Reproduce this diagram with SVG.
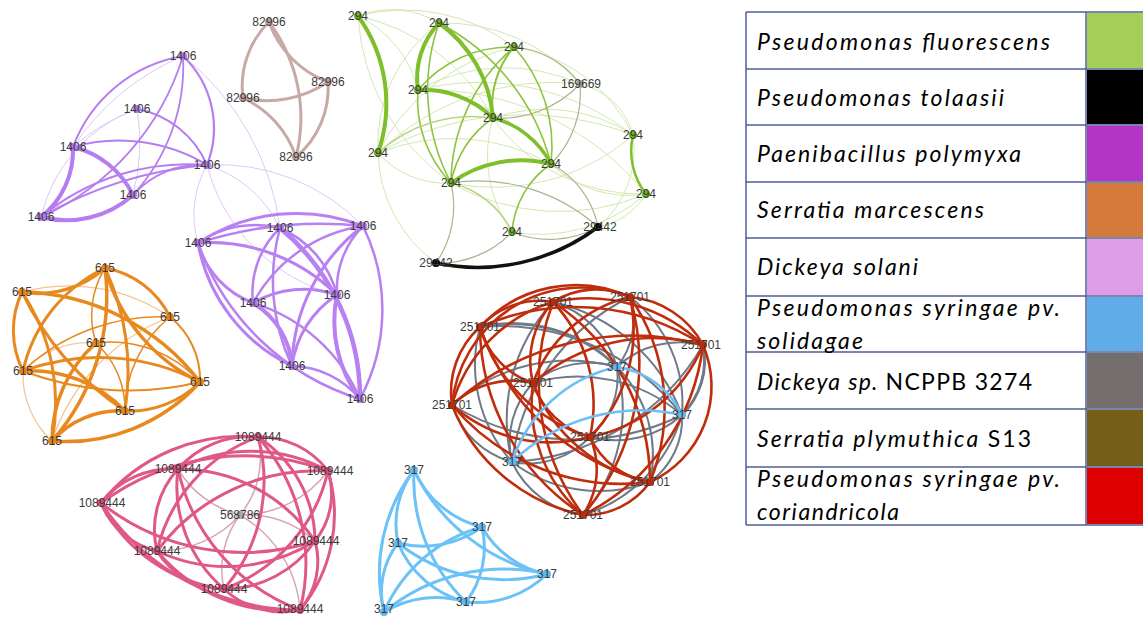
<svg xmlns="http://www.w3.org/2000/svg" width="1143" height="617" viewBox="0 0 1143 617">
<style>
.e{fill:none;stroke-linecap:round}
.p1{stroke:#b67df0;stroke-width:2}
.p1f{stroke:#ddc8f8;stroke-width:1}
.br{stroke:#c7aaa5;stroke-width:3}
.g1{stroke:#7fbf2a;stroke-width:4}
.g2{stroke:#8cc440;stroke-width:1.6}
.g3{stroke:#aab58c;stroke-width:1.2}
.g4{stroke:#d3e8b0;stroke-width:1}
.bk{stroke:#111;stroke-width:3.5}
.p2{stroke:#b880f2;stroke-width:2.5}
.or{stroke:#e8891f;stroke-width:3}
.orl{stroke:#f3c48e;stroke-width:1.2}
.pk{stroke:#df5887;stroke-width:3}
.pkl{stroke:#d9a5b8;stroke-width:1.5}
.bl{stroke:#6cc2f6;stroke-width:3}
.rd{stroke:#bf2d0c;stroke-width:2.6}
.gy{stroke:#6f7a89;stroke-width:2}
.lb{stroke:#6cc0f5;stroke-width:2.5}
.lbl{font-family:"Liberation Sans",Arial,sans-serif;font-size:12px;fill:#3a3a3a;text-anchor:middle}
.leg{font-family:Lato,"Liberation Sans",sans-serif;font-size:23px;fill:#000;font-style:italic}
.up{font-style:normal}
.grid{stroke:#4f5d96;stroke-width:1.5;fill:none}
</style>
<rect width="1143" height="617" fill="#fff"/>
<g id="connectors">
<path class="e p1f" d="M137 109A150 150 0 0 0 41 217"/>
<path class="e p1f" d="M137 109A200 200 0 0 1 133 195"/>
<path class="e p1f" d="M183 56A250 250 0 0 0 73 147"/>
<path class="e p1f" d="M73 147A200 200 0 0 1 137 109"/>
<path class="e p1f" d="M207 165A100 100 0 0 0 198 243"/>
<path class="e p1f" d="M207 165A120 120 0 0 1 280 228"/>
<path class="e p1f" d="M207 165A200 200 0 0 1 363 226"/>
<path class="e p1f" d="M207 165A180 180 0 0 0 337 295"/>
<path class="e p1f" d="M183 56A260 260 0 0 1 280 228"/>
<path class="e p1" d="M183 56A143 143 0 0 0 73 147"/>
<path class="e p1" style="stroke-width:1.8" d="M183 56A190 190 0 0 1 133 195"/>
<path class="e p1" style="stroke-width:1.8" d="M183 56A260 260 0 0 1 41 217"/>
<path class="e p1" style="stroke-width:2.2" d="M183 56A100 100 0 0 1 207 165"/>
<path class="e p1" d="M137 109A95 95 0 0 1 207 165"/>
<path class="e p1" d="M73 147A170 170 0 0 1 207 165"/>
<path class="e p1" style="stroke-width:4" d="M73 147A90 90 0 0 1 133 195"/>
<path class="e p1" style="stroke-width:4" d="M73 147A85 85 0 0 1 41 217"/>
<path class="e p1" style="stroke-width:4" d="M41 217A100 100 0 0 0 133 195"/>
<path class="e p1" d="M41 217A230 230 0 0 1 207 165"/>
<path class="e p1" d="M41 217A400 400 0 0 1 207 165"/>
<path class="e p1" d="M133 195A90 90 0 0 1 207 165"/>
<path class="e br" d="M269 22A90 90 0 0 0 243 98"/>
<path class="e br" d="M269 22A100 100 0 0 0 328 82"/>
<path class="e br" d="M269 22A160 160 0 0 1 296 157"/>
<path class="e br" d="M243 98A110 110 0 0 0 328 82"/>
<path class="e br" d="M243 98A100 100 0 0 1 296 157"/>
<path class="e br" d="M328 82A90 90 0 0 1 296 157"/>
<path class="e g4" d="M358 16A90 90 0 0 1 439 23"/>
<path class="e g4" d="M358 16A180 180 0 0 1 514 47"/>
<path class="e g4" d="M358 16A110 110 0 0 1 418 90"/>
<path class="e g4" d="M358 16A200 200 0 0 1 493 118"/>
<path class="e g4" d="M358 16A220 220 0 0 0 451 183"/>
<path class="e g4" d="M439 23A180 180 0 0 1 580 84"/>
<path class="e g4" d="M514 47A160 160 0 0 1 633 135"/>
<path class="e g4" d="M514 47A200 200 0 0 0 378 153"/>
<path class="e g4" d="M418 90A250 250 0 0 1 633 135"/>
<path class="e g4" d="M418 90A170 170 0 0 1 551 164"/>
<path class="e g4" d="M418 90A180 180 0 0 1 580 84"/>
<path class="e g4" d="M378 153A200 200 0 0 1 551 164"/>
<path class="e g4" d="M378 153A300 300 0 0 1 633 135"/>
<path class="e g4" d="M378 153A250 250 0 0 1 580 84"/>
<path class="e g4" d="M493 118A180 180 0 0 0 646 194"/>
<path class="e g4" d="M551 164A110 110 0 0 0 646 194"/>
<path class="e g4" d="M451 183A220 220 0 0 0 646 194"/>
<path class="e g4" d="M418 90A280 280 0 0 1 646 194"/>
<path class="e g4" d="M580 84A70 70 0 0 1 633 135"/>
<path class="e g4" d="M512 232A160 160 0 0 0 646 194"/>
<path class="e g4" d="M598 227A70 70 0 0 0 646 194"/>
<path class="e g4" d="M378 153A140 140 0 0 0 436 263"/>
<path class="e g4" d="M493 118A130 130 0 0 0 512 232"/>
<path class="e g4" d="M451 183A210 210 0 0 0 633 135"/>
<path class="e g4" d="M493 118A160 160 0 0 1 633 135"/>
<path class="e g4" d="M378 153A90 90 0 0 0 451 183"/>
<path class="e g4" d="M439 23A150 150 0 0 0 378 153"/>
<path class="e g4" d="M633 135A100 100 0 0 1 598 227"/>
<path class="e g3" d="M580 84A110 110 0 0 1 493 118"/>
<path class="e g3" d="M580 84A100 100 0 0 1 551 164"/>
<path class="e g3" d="M514 47A90 90 0 0 1 580 84"/>
<path class="e g3" d="M451 183A180 180 0 0 1 598 227"/>
<path class="e g3" d="M451 183A100 100 0 0 1 436 263"/>
<path class="e g3" d="M436 263A100 100 0 0 0 512 232"/>
<path class="e g3" d="M598 227A100 100 0 0 1 512 232"/>
<path class="e g3" d="M598 227A90 90 0 0 0 551 164"/>
<path class="e g2" d="M514 47A150 150 0 0 1 551 164"/>
<path class="e g2" d="M514 47A180 180 0 0 0 451 183"/>
<path class="e g2" d="M514 47A120 120 0 0 0 418 90"/>
<path class="e g2" style="stroke-width:2" d="M514 47A90 90 0 0 0 493 118"/>
<path class="e g2" d="M418 90A120 120 0 0 0 451 183"/>
<path class="e g2" d="M451 183A100 100 0 0 1 493 118"/>
<path class="e g2" d="M551 164A90 90 0 0 0 512 232"/>
<path class="e g2" d="M439 23A220 220 0 0 1 551 164"/>
<path class="e g2" d="M439 23A200 200 0 0 0 451 183"/>
<path class="e g2" style="stroke:#b5d67f" d="M378 153A140 140 0 0 1 493 118"/>
<path class="e g2" style="stroke:#b5d67f" d="M451 183A90 90 0 0 1 512 232"/>
<path class="e g1" d="M358 16A150 150 0 0 1 378 153"/>
<path class="e g1" d="M439 23A80 80 0 0 0 418 90"/>
<path class="e g1" d="M439 23A130 130 0 0 1 493 118"/>
<path class="e g1" d="M418 90A100 100 0 0 1 493 118"/>
<path class="e g1" style="stroke-width:3.5" d="M493 118A90 90 0 0 1 551 164"/>
<path class="e g1" d="M451 183A120 120 0 0 1 551 164"/>
<path class="e g1" style="stroke-width:2.5" d="M633 135A70 70 0 0 0 646 194"/>
<path class="e bk" d="M598 227A200 200 0 0 1 436 263"/>
<path class="e p2" style="stroke-width:3" d="M198 243A180 180 0 0 1 363 226"/>
<path class="e p2" d="M198 243A400 400 0 0 1 363 226"/>
<path class="e p2" d="M198 243A100 100 0 0 1 280 228"/>
<path class="e p2" style="stroke-width:3" d="M198 243A170 170 0 0 0 292 366"/>
<path class="e p2" d="M198 243A250 250 0 0 0 360 399"/>
<path class="e p2" style="stroke-width:3" d="M198 243A90 90 0 0 0 253 303"/>
<path class="e p2" style="stroke-width:3" d="M198 243A180 180 0 0 1 337 295"/>
<path class="e p2" d="M280 228A90 90 0 0 0 253 303"/>
<path class="e p2" d="M280 228A100 100 0 0 1 337 295"/>
<path class="e p2" style="stroke-width:4.5" d="M280 228A220 220 0 0 1 360 399"/>
<path class="e p2" d="M280 228A200 200 0 0 0 292 366"/>
<path class="e p2" d="M363 226A150 150 0 0 0 253 303"/>
<path class="e p2" d="M363 226A90 90 0 0 0 337 295"/>
<path class="e p2" style="stroke-width:3" d="M363 226A180 180 0 0 0 292 366"/>
<path class="e p2" d="M363 226A190 190 0 0 1 360 399"/>
<path class="e p2" style="stroke-width:3" d="M253 303A100 100 0 0 1 337 295"/>
<path class="e p2" style="stroke-width:4" d="M253 303A80 80 0 0 1 292 366"/>
<path class="e p2" d="M253 303A170 170 0 0 1 360 399"/>
<path class="e p2" style="stroke-width:3" d="M337 295A100 100 0 0 0 292 366"/>
<path class="e p2" style="stroke-width:4" d="M337 295A130 130 0 0 0 360 399"/>
<path class="e p2" d="M292 366A90 90 0 0 1 360 399"/>
<path class="e orl" d="M170 317A200 200 0 0 0 52 441"/>
<path class="e orl" d="M96 343A90 90 0 0 0 23 371"/>
<path class="e orl" d="M23 371A90 90 0 0 0 52 441"/>
<path class="e orl" d="M22 292A180 180 0 0 1 170 317"/>
<path class="e or" style="stroke-width:1.5" d="M170 317A200 200 0 0 0 23 371"/>
<path class="e or" style="stroke-width:1.5" d="M170 317A120 120 0 0 0 125 411"/>
<path class="e or" style="stroke-width:1.5" d="M96 343A90 90 0 0 1 125 411"/>
<path class="e or" style="stroke-width:1.5" d="M96 343A120 120 0 0 1 200 382"/>
<path class="e or" style="stroke-width:1.5" d="M105 268A90 90 0 0 0 96 343"/>
<path class="e or" style="stroke-width:2" d="M170 317A80 80 0 0 1 200 382"/>
<path class="e or" style="stroke-width:2" d="M23 371A300 300 0 0 0 200 382"/>
<path class="e or" style="stroke-width:3.5" d="M22 292A100 100 0 0 0 105 268"/>
<path class="e or" d="M105 268A90 90 0 0 1 170 317"/>
<path class="e or" style="stroke-width:3.5" d="M105 268A220 220 0 0 1 52 441"/>
<path class="e or" d="M105 268A250 250 0 0 1 125 411"/>
<path class="e or" style="stroke-width:3.5" d="M105 268A180 180 0 0 0 200 382"/>
<path class="e or" d="M105 268A150 150 0 0 0 23 371"/>
<path class="e or" d="M22 292A90 90 0 0 0 23 371"/>
<path class="e or" style="stroke-width:3.5" d="M22 292A230 230 0 0 1 200 382"/>
<path class="e or" d="M22 292A300 300 0 0 0 125 411"/>
<path class="e or" d="M22 292A200 200 0 0 1 52 441"/>
<path class="e or" style="stroke-width:3.5" d="M96 343A130 130 0 0 0 52 441"/>
<path class="e or" d="M23 371A220 220 0 0 1 200 382"/>
<path class="e or" style="stroke-width:3.5" d="M23 371A130 130 0 0 1 125 411"/>
<path class="e or" style="stroke-width:3.5" d="M52 441A180 180 0 0 0 200 382"/>
<path class="e or" d="M125 411A100 100 0 0 0 200 382"/>
<path class="e or" style="stroke-width:3.5" d="M52 441A90 90 0 0 1 125 411"/>
<path class="e pkl" d="M240 515A90 90 0 0 0 258 437"/>
<path class="e pkl" d="M240 515A100 100 0 0 1 178 469"/>
<path class="e pkl" d="M240 515A110 110 0 0 0 328 471"/>
<path class="e pkl" d="M240 515A100 100 0 0 1 315 541"/>
<path class="e pkl" d="M240 515A110 110 0 0 1 157 551"/>
<path class="e pkl" d="M240 515A90 90 0 0 0 224 589"/>
<path class="e pkl" d="M240 515A120 120 0 0 1 300 610"/>
<path class="e pk" d="M178 469A95 95 0 0 1 258 437"/>
<path class="e pk" d="M258 437A85 85 0 0 1 328 471"/>
<path class="e pk" d="M101 503A180 180 0 0 1 258 437"/>
<path class="e pk" d="M258 437A125 125 0 0 1 315 541"/>
<path class="e pk" d="M157 551A160 160 0 0 1 258 437"/>
<path class="e pk" d="M258 437A165 165 0 0 1 224 589"/>
<path class="e pk" d="M258 437A190 190 0 0 1 300 610"/>
<path class="e pk" d="M178 469A160 160 0 0 1 328 471"/>
<path class="e pk" d="M101 503A90 90 0 0 1 178 469"/>
<path class="e pk" d="M178 469A165 165 0 0 1 315 541"/>
<path class="e pk" d="M157 551A90 90 0 0 1 178 469"/>
<path class="e pk" d="M224 589A135 135 0 0 1 178 469"/>
<path class="e pk" d="M300 610A195 195 0 0 1 178 469"/>
<path class="e pk" d="M101 503A240 240 0 0 1 328 471"/>
<path class="e pk" d="M328 471A75 75 0 0 1 315 541"/>
<path class="e pk" d="M157 551A200 200 0 0 1 328 471"/>
<path class="e pk" d="M328 471A165 165 0 0 1 224 589"/>
<path class="e pk" d="M328 471A150 150 0 0 1 300 610"/>
<path class="e pk" d="M315 541A230 230 0 0 1 101 503"/>
<path class="e pk" d="M157 551A80 80 0 0 1 101 503"/>
<path class="e pk" d="M224 589A160 160 0 0 1 101 503"/>
<path class="e pk" d="M300 610A240 240 0 0 1 101 503"/>
<path class="e pk" d="M315 541A165 165 0 0 1 157 551"/>
<path class="e pk" d="M315 541A110 110 0 0 1 224 589"/>
<path class="e pk" d="M315 541A75 75 0 0 1 300 610"/>
<path class="e pk" d="M224 589A80 80 0 0 1 157 551"/>
<path class="e pk" d="M300 610A165 165 0 0 1 157 551"/>
<path class="e pk" d="M300 610A85 85 0 0 1 224 589"/>
<path class="e bl" d="M414 470A170 170 0 0 0 384 612"/>
<path class="e bl" d="M414 470A90 90 0 0 0 398 543"/>
<path class="e bl" d="M414 470A170 170 0 0 0 466 602"/>
<path class="e bl" d="M414 470A190 190 0 0 0 547 574"/>
<path class="e bl" d="M414 470A100 100 0 0 0 482 527"/>
<path class="e bl" d="M398 543A100 100 0 0 0 482 527"/>
<path class="e bl" d="M482 527A150 150 0 0 0 384 612"/>
<path class="e bl" d="M482 527A95 95 0 0 0 547 574"/>
<path class="e bl" d="M482 527A90 90 0 0 1 466 602"/>
<path class="e bl" d="M398 543A170 170 0 0 0 547 574"/>
<path class="e bl" d="M398 543A100 100 0 0 0 466 602"/>
<path class="e bl" d="M398 543A80 80 0 0 0 384 612"/>
<path class="e bl" d="M384 612A190 190 0 0 1 547 574"/>
<path class="e bl" d="M466 602A100 100 0 0 0 547 574"/>
<path class="e bl" d="M384 612A100 100 0 0 1 466 602"/>
<path class="e gy" d="M553 302A95 95 0 0 1 617 367"/>
<path class="e gy" d="M630 297A75 75 0 0 1 617 367"/>
<path class="e gy" style="stroke-width:3" d="M480 327A150 150 0 0 1 617 367"/>
<path class="e gy" d="M617 367A93 93 0 0 1 703 345"/>
<path class="e gy" d="M533 383A90 90 0 0 1 617 367"/>
<path class="e gy" d="M452 405A177 177 0 0 1 617 367"/>
<path class="e gy" d="M617 367A79 79 0 0 1 590 437"/>
<path class="e gy" d="M617 367A126 126 0 0 1 650 482"/>
<path class="e gy" d="M617 367A160 160 0 0 1 583 515"/>
<path class="e gy" d="M553 302A180 180 0 0 1 682 415"/>
<path class="e gy" d="M630 297A135 135 0 0 1 682 415"/>
<path class="e gy" d="M480 327A230 230 0 0 1 682 415"/>
<path class="e gy" style="stroke-width:3" d="M703 345A77 77 0 0 1 682 415"/>
<path class="e gy" d="M533 383A160 160 0 0 1 682 415"/>
<path class="e gy" d="M682 415A240 240 0 0 1 452 405"/>
<path class="e gy" d="M682 415A100 100 0 0 1 590 437"/>
<path class="e gy" d="M682 415A78 78 0 0 1 650 482"/>
<path class="e gy" d="M682 415A148 148 0 0 1 583 515"/>
<path class="e gy" d="M512 462A173 173 0 0 1 553 302"/>
<path class="e gy" d="M512 462A213 213 0 0 1 630 297"/>
<path class="e gy" d="M512 462A146 146 0 0 1 480 327"/>
<path class="e gy" d="M703 345A235 235 0 0 1 512 462"/>
<path class="e gy" d="M512 462A86 86 0 0 1 533 383"/>
<path class="e gy" d="M512 462A87 87 0 0 1 452 405"/>
<path class="e gy" d="M590 437A86 86 0 0 1 512 462"/>
<path class="e gy" d="M650 482A146 146 0 0 1 512 462"/>
<path class="e gy" d="M583 515A93 93 0 0 1 512 462"/>
<path class="e rd" d="M553 302A80 80 0 0 1 630 297"/>
<path class="e rd" d="M480 327A80 80 0 0 1 553 302"/>
<path class="e rd" d="M553 302A165 165 0 0 1 703 345"/>
<path class="e rd" d="M533 383A88 88 0 0 1 553 302"/>
<path class="e rd" d="M452 405A150 150 0 0 1 553 302"/>
<path class="e rd" d="M553 302A150 150 0 0 1 590 437"/>
<path class="e rd" d="M553 302A215 215 0 0 1 650 482"/>
<path class="e rd" d="M583 515A225 225 0 0 1 553 302"/>
<path class="e rd" d="M480 327A130 130 0 0 1 630 297"/>
<path class="e rd" d="M630 297A92 92 0 0 1 703 345"/>
<path class="e rd" d="M533 383A137 137 0 0 1 630 297"/>
<path class="e rd" d="M452 405A130 130 0 0 1 630 297"/>
<path class="e rd" d="M630 297A153 153 0 0 1 590 437"/>
<path class="e rd" d="M630 297A195 195 0 0 1 650 482"/>
<path class="e rd" d="M630 297A235 235 0 0 1 583 515"/>
<path class="e rd" d="M480 327A235 235 0 0 1 703 345"/>
<path class="e rd" d="M533 383A81 81 0 0 1 480 327"/>
<path class="e rd" d="M452 405A87 87 0 0 1 480 327"/>
<path class="e rd" d="M590 437A164 164 0 0 1 480 327"/>
<path class="e rd" d="M650 482A240 240 0 0 1 480 327"/>
<path class="e rd" d="M583 515A225 225 0 0 1 480 327"/>
<path class="e rd" d="M533 383A183 183 0 0 1 703 345"/>
<path class="e rd" d="M452 405A270 270 0 0 1 703 345"/>
<path class="e rd" d="M703 345A153 153 0 0 1 590 437"/>
<path class="e rd" d="M703 345A105 105 0 0 1 650 482"/>
<path class="e rd" d="M703 345A218 218 0 0 1 583 515"/>
<path class="e rd" d="M452 405A88 88 0 0 1 533 383"/>
<path class="e rd" d="M590 437A83 83 0 0 1 533 383"/>
<path class="e rd" d="M650 482A160 160 0 0 1 533 383"/>
<path class="e rd" d="M583 515A148 148 0 0 1 533 383"/>
<path class="e rd" d="M590 437A149 149 0 0 1 452 405"/>
<path class="e rd" d="M650 482A222 222 0 0 1 452 405"/>
<path class="e rd" d="M583 515A180 180 0 0 1 452 405"/>
<path class="e rd" d="M650 482A79 79 0 0 1 590 437"/>
<path class="e rd" d="M590 437A82 82 0 0 1 583 515"/>
<path class="e rd" d="M650 482A79 79 0 0 1 583 515"/>
<path class="e lb" d="M512 462A142 142 0 0 1 617 367"/>
<path class="e lb" d="M512 462A185 185 0 0 1 682 415"/>
<path class="e lb" d="M617 367A85 85 0 0 1 682 415"/>
</g>
<g id="n-1406-a"><circle cx="183" cy="56" r="4" fill="#b378ee"/><text class="lbl" x="183" y="60">1406</text></g>
<g id="n-1406-b"><circle cx="137" cy="109" r="4" fill="#b378ee"/><text class="lbl" x="137" y="113">1406</text></g>
<g id="n-1406-c"><circle cx="73" cy="147" r="4" fill="#b378ee"/><text class="lbl" x="73" y="151">1406</text></g>
<g id="n-1406-d"><circle cx="207" cy="165" r="4" fill="#b378ee"/><text class="lbl" x="207" y="169">1406</text></g>
<g id="n-1406-e"><circle cx="133" cy="195" r="4" fill="#b378ee"/><text class="lbl" x="133" y="199">1406</text></g>
<g id="n-1406-f"><circle cx="41" cy="217" r="4" fill="#b378ee"/><text class="lbl" x="41" y="221">1406</text></g>
<g id="n-82996-a"><circle cx="269" cy="22" r="4" fill="#c0a39e"/><text class="lbl" x="269" y="26">82996</text></g>
<g id="n-82996-b"><circle cx="328" cy="82" r="4" fill="#c0a39e"/><text class="lbl" x="328" y="86">82996</text></g>
<g id="n-82996-c"><circle cx="243" cy="98" r="4" fill="#c0a39e"/><text class="lbl" x="243" y="102">82996</text></g>
<g id="n-82996-d"><circle cx="296" cy="157" r="4" fill="#c0a39e"/><text class="lbl" x="296" y="161">82996</text></g>
<g id="n-294-1"><circle cx="358" cy="16" r="4" fill="#6fb21e"/><text class="lbl" x="358" y="20">294</text></g>
<g id="n-294-2"><circle cx="439" cy="23" r="4" fill="#6fb21e"/><text class="lbl" x="439" y="27">294</text></g>
<g id="n-294-3"><circle cx="514" cy="47" r="4" fill="#6fb21e"/><text class="lbl" x="514" y="51">294</text></g>
<g id="n-169669"><circle cx="580" cy="84" r="4" fill="#a8a8a8"/><text class="lbl" x="581" y="88">169669</text></g>
<g id="n-294-5"><circle cx="418" cy="90" r="4" fill="#6fb21e"/><text class="lbl" x="418" y="94">294</text></g>
<g id="n-294-6"><circle cx="493" cy="118" r="4" fill="#6fb21e"/><text class="lbl" x="493" y="122">294</text></g>
<g id="n-294-7"><circle cx="378" cy="153" r="4" fill="#6fb21e"/><text class="lbl" x="378" y="157">294</text></g>
<g id="n-294-8"><circle cx="633" cy="135" r="4" fill="#6fb21e"/><text class="lbl" x="633" y="139">294</text></g>
<g id="n-294-9"><circle cx="551" cy="164" r="4" fill="#6fb21e"/><text class="lbl" x="551" y="168">294</text></g>
<g id="n-294-10"><circle cx="451" cy="183" r="4" fill="#6fb21e"/><text class="lbl" x="451" y="187">294</text></g>
<g id="n-294-11"><circle cx="512" cy="232" r="4" fill="#6fb21e"/><text class="lbl" x="512" y="236">294</text></g>
<g id="n-294-14"><circle cx="646" cy="194" r="4" fill="#6fb21e"/><text class="lbl" x="646" y="198">294</text></g>
<g id="n-29442-a"><circle cx="598" cy="227" r="4" fill="#000"/><text class="lbl" x="600" y="231">29442</text></g>
<g id="n-29442-b"><circle cx="436" cy="263" r="4" fill="#000"/><text class="lbl" x="436" y="267">29442</text></g>
<g id="n-1406-h1"><circle cx="198" cy="243" r="4" fill="#b378ee"/><text class="lbl" x="198" y="247">1406</text></g>
<g id="n-1406-h2"><circle cx="280" cy="228" r="4" fill="#b378ee"/><text class="lbl" x="280" y="232">1406</text></g>
<g id="n-1406-h3"><circle cx="363" cy="226" r="4" fill="#b378ee"/><text class="lbl" x="363" y="230">1406</text></g>
<g id="n-1406-h4"><circle cx="253" cy="303" r="4" fill="#b378ee"/><text class="lbl" x="253" y="307">1406</text></g>
<g id="n-1406-h5"><circle cx="337" cy="295" r="4" fill="#b378ee"/><text class="lbl" x="337" y="299">1406</text></g>
<g id="n-1406-h6"><circle cx="292" cy="366" r="4" fill="#b378ee"/><text class="lbl" x="292" y="370">1406</text></g>
<g id="n-1406-h7"><circle cx="360" cy="399" r="4" fill="#b378ee"/><text class="lbl" x="360" y="403">1406</text></g>
<g id="n-615-1"><circle cx="105" cy="268" r="4" fill="#e6841a"/><text class="lbl" x="105" y="272">615</text></g>
<g id="n-615-2"><circle cx="22" cy="292" r="4" fill="#e6841a"/><text class="lbl" x="22" y="296">615</text></g>
<g id="n-615-3"><circle cx="170" cy="317" r="4" fill="#e6841a"/><text class="lbl" x="170" y="321">615</text></g>
<g id="n-615-4"><circle cx="96" cy="343" r="4" fill="#e6841a"/><text class="lbl" x="96" y="347">615</text></g>
<g id="n-615-5"><circle cx="23" cy="371" r="4" fill="#e6841a"/><text class="lbl" x="23" y="375">615</text></g>
<g id="n-615-6"><circle cx="200" cy="382" r="4" fill="#e6841a"/><text class="lbl" x="200" y="386">615</text></g>
<g id="n-615-7"><circle cx="125" cy="411" r="4" fill="#e6841a"/><text class="lbl" x="125" y="415">615</text></g>
<g id="n-615-8"><circle cx="52" cy="441" r="4" fill="#e6841a"/><text class="lbl" x="52" y="445">615</text></g>
<g id="n-1089444-1"><circle cx="258" cy="437" r="4" fill="#dc4f80"/><text class="lbl" x="258" y="441">1089444</text></g>
<g id="n-1089444-2"><circle cx="178" cy="469" r="4" fill="#dc4f80"/><text class="lbl" x="178" y="473">1089444</text></g>
<g id="n-1089444-3"><circle cx="328" cy="471" r="4" fill="#dc4f80"/><text class="lbl" x="330" y="475">1089444</text></g>
<g id="n-1089444-4"><circle cx="101" cy="503" r="4" fill="#dc4f80"/><text class="lbl" x="102" y="507">1089444</text></g>
<g id="n-568786"><circle cx="240" cy="515" r="4" fill="#a8a8a8"/><text class="lbl" x="240" y="519">568786</text></g>
<g id="n-1089444-6"><circle cx="315" cy="541" r="4" fill="#dc4f80"/><text class="lbl" x="316" y="545">1089444</text></g>
<g id="n-1089444-7"><circle cx="157" cy="551" r="4" fill="#dc4f80"/><text class="lbl" x="157" y="555">1089444</text></g>
<g id="n-1089444-8"><circle cx="224" cy="589" r="4" fill="#dc4f80"/><text class="lbl" x="224" y="593">1089444</text></g>
<g id="n-1089444-9"><circle cx="300" cy="610" r="4" fill="#dc4f80"/><text class="lbl" x="300" y="613">1089444</text></g>
<g id="n-317-b1"><circle cx="414" cy="470" r="4" fill="#5fb8f2"/><text class="lbl" x="414" y="474">317</text></g>
<g id="n-317-b2"><circle cx="482" cy="527" r="4" fill="#5fb8f2"/><text class="lbl" x="482" y="531">317</text></g>
<g id="n-317-b3"><circle cx="398" cy="543" r="4" fill="#5fb8f2"/><text class="lbl" x="398" y="547">317</text></g>
<g id="n-317-b4"><circle cx="547" cy="574" r="4" fill="#5fb8f2"/><text class="lbl" x="547" y="578">317</text></g>
<g id="n-317-b5"><circle cx="466" cy="602" r="4" fill="#5fb8f2"/><text class="lbl" x="466" y="606">317</text></g>
<g id="n-317-b6"><circle cx="384" cy="612" r="4" fill="#5fb8f2"/><text class="lbl" x="384" y="613">317</text></g>
<g id="n-251701-a"><circle cx="553" cy="302" r="4" fill="#bb2a08"/><text class="lbl" x="553" y="306">251701</text></g>
<g id="n-251701-b"><circle cx="630" cy="297" r="4" fill="#bb2a08"/><text class="lbl" x="630" y="301">251701</text></g>
<g id="n-251701-c"><circle cx="480" cy="327" r="4" fill="#bb2a08"/><text class="lbl" x="480" y="331">251701</text></g>
<g id="n-251701-d"><circle cx="703" cy="345" r="4" fill="#bb2a08"/><text class="lbl" x="701" y="349">251701</text></g>
<g id="n-251701-e"><circle cx="533" cy="383" r="4" fill="#bb2a08"/><text class="lbl" x="533" y="387">251701</text></g>
<g id="n-251701-f"><circle cx="452" cy="405" r="4" fill="#bb2a08"/><text class="lbl" x="452" y="409">251701</text></g>
<g id="n-251701-g"><circle cx="590" cy="437" r="4" fill="#bb2a08"/><text class="lbl" x="590" y="441">251701</text></g>
<g id="n-251701-h"><circle cx="650" cy="482" r="4" fill="#bb2a08"/><text class="lbl" x="650" y="486">251701</text></g>
<g id="n-251701-i"><circle cx="583" cy="515" r="4" fill="#bb2a08"/><text class="lbl" x="583" y="519">251701</text></g>
<g id="n-317-p"><circle cx="617" cy="367" r="4" fill="#5fb8f2"/><text class="lbl" x="617" y="371">317</text></g>
<g id="n-317-q"><circle cx="682" cy="415" r="4" fill="#5fb8f2"/><text class="lbl" x="682" y="419">317</text></g>
<g id="n-317-s"><circle cx="512" cy="462" r="4" fill="#5fb8f2"/><text class="lbl" x="512" y="466">317</text></g>
<g id="legend">
<rect x="1087" y="13" width="56" height="55" fill="#a4cf57"/>
<rect x="1087" y="70" width="56" height="54" fill="#000"/>
<rect x="1087" y="126" width="56" height="55" fill="#b236c5"/>
<rect x="1087" y="183" width="56" height="54" fill="#d47b3b"/>
<rect x="1087" y="239" width="56" height="56" fill="#df9de9"/>
<rect x="1087" y="297" width="56" height="54" fill="#60ace9"/>
<rect x="1087" y="353" width="56" height="55" fill="#746e6e"/>
<rect x="1087" y="410" width="56" height="56" fill="#755e17"/>
<rect x="1087" y="468" width="56" height="56" fill="#dc0000"/>
<path class="grid" d="M746 12H1143M746 69H1143M746 125H1143M746 182H1143M746 238H1143M746 296H1143M746 352H1143M746 409H1143M746 467H1143M746 525H1143M746 12V525M1086 12V525"/>
<text class="leg" x="757" y="50" textLength="293" lengthAdjust="spacing">Pseudomonas  fluorescens</text>
<text class="leg" x="757" y="106" textLength="247" lengthAdjust="spacing">Pseudomonas  tolaasii</text>
<text class="leg" x="757" y="162" textLength="264" lengthAdjust="spacing">Paenibacillus  polymyxa</text>
<text class="leg" x="757" y="218" textLength="227" lengthAdjust="spacing">Serratia  marcescens</text>
<text class="leg" x="757" y="275" textLength="161" lengthAdjust="spacing">Dickeya  solani</text>
<text class="leg" x="757" y="316" textLength="303" lengthAdjust="spacing">Pseudomonas  syringae  pv.</text>
<text class="leg" x="757" y="349" textLength="106" lengthAdjust="spacing">solidagae</text>
<text class="leg" x="757" y="390" textLength="275" lengthAdjust="spacing">Dickeya  sp. <tspan class="up">NCPPB 3274</tspan></text>
<text class="leg" x="757" y="447" textLength="274" lengthAdjust="spacing">Serratia  plymuthica  <tspan class="up">S13</tspan></text>
<text class="leg" x="757" y="487" textLength="303" lengthAdjust="spacing">Pseudomonas  syringae  pv.</text>
<text class="leg" x="757" y="520" textLength="142" lengthAdjust="spacing">coriandricola</text>
</g>
</svg>
